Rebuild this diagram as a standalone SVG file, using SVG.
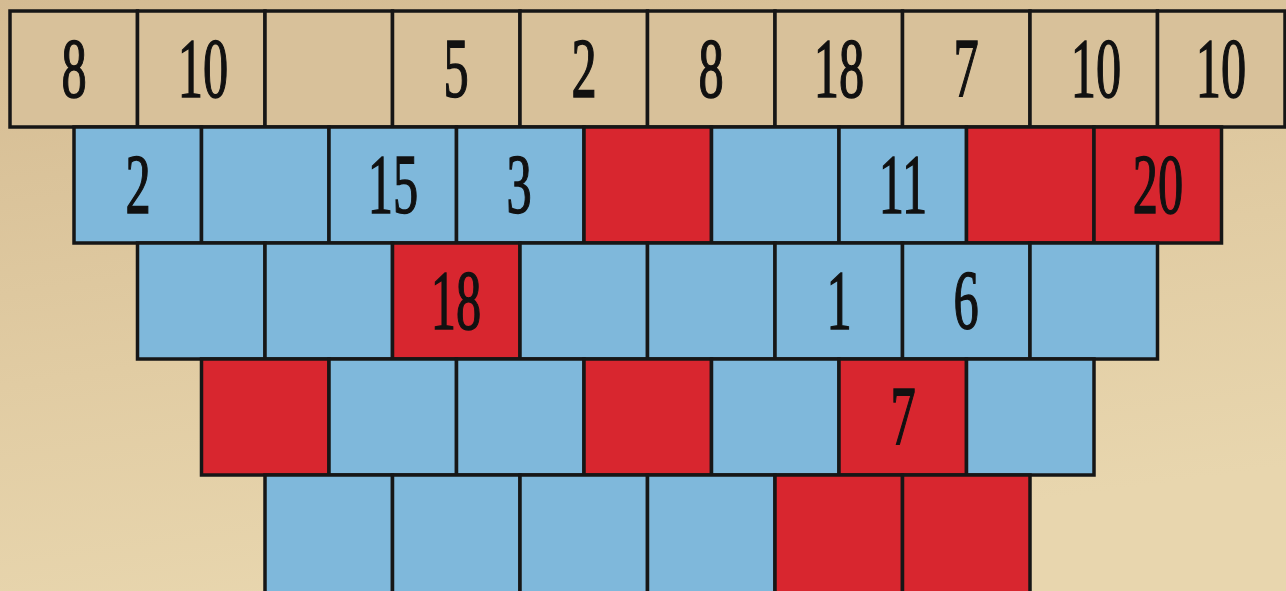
<svg xmlns="http://www.w3.org/2000/svg" width="1286" height="591" viewBox="0 0 1286 591">
<defs>
<linearGradient id="bg" x1="0" y1="0" x2="0.3" y2="1">
<stop offset="0" stop-color="#d4bb92"/>
<stop offset="0.6" stop-color="#e1cca3"/>
<stop offset="1" stop-color="#e8d6ae"/>
</linearGradient>
<style>
.c{stroke:#161616;stroke-width:3.5}
.t{fill:#d8c19a}
.b{fill:#7fb8db}
.r{fill:#d8262f}
.n{font-family:"Liberation Serif","DejaVu Serif",serif;font-size:84px;fill:#111;stroke:#111;stroke-width:1.5;text-anchor:middle}
</style>
</defs>
<rect width="1286" height="591" fill="url(#bg)"/>
<g id="row0">
<g id="r0c0"><rect class="c t" x="10" y="11" width="127.5" height="116"/><text class="n" transform="translate(74,97) scale(0.6,1)">8</text></g>
<g id="r0c1"><rect class="c t" x="137.5" y="11" width="127.5" height="116"/><text class="n" transform="translate(203,97) scale(0.6,1)">10</text></g>
<g id="r0c2"><rect class="c t" x="265" y="11" width="127.5" height="116"/></g>
<g id="r0c3"><rect class="c t" x="392.5" y="11" width="127.5" height="116"/><text class="n" transform="translate(456,97) scale(0.6,1)">5</text></g>
<g id="r0c4"><rect class="c t" x="520" y="11" width="127.5" height="116"/><text class="n" transform="translate(584,97) scale(0.6,1)">2</text></g>
<g id="r0c5"><rect class="c t" x="647.5" y="11" width="127.5" height="116"/><text class="n" transform="translate(711,97) scale(0.6,1)">8</text></g>
<g id="r0c6"><rect class="c t" x="775" y="11" width="127.5" height="116"/><text class="n" transform="translate(839,97) scale(0.6,1)">18</text></g>
<g id="r0c7"><rect class="c t" x="902.5" y="11" width="127.5" height="116"/><text class="n" transform="translate(966,97) scale(0.6,1)">7</text></g>
<g id="r0c8"><rect class="c t" x="1030" y="11" width="127.5" height="116"/><text class="n" transform="translate(1096,97) scale(0.6,1)">10</text></g>
<g id="r0c9"><rect class="c t" x="1157.5" y="11" width="127.5" height="116"/><text class="n" transform="translate(1221,97) scale(0.6,1)">10</text></g>
</g>
<g id="row1">
<g id="r1c0"><rect class="c b" x="74" y="127" width="127.5" height="116"/><text class="n" transform="translate(138,213) scale(0.6,1)">2</text></g>
<g id="r1c1"><rect class="c b" x="201.5" y="127" width="127.5" height="116"/></g>
<g id="r1c2"><rect class="c b" x="329" y="127" width="127.5" height="116"/><text class="n" transform="translate(393,213) scale(0.6,1)">15</text></g>
<g id="r1c3"><rect class="c b" x="456.5" y="127" width="127.5" height="116"/><text class="n" transform="translate(519,213) scale(0.6,1)">3</text></g>
<g id="r1c4"><rect class="c r" x="584" y="127" width="127.5" height="116"/></g>
<g id="r1c5"><rect class="c b" x="711.5" y="127" width="127.5" height="116"/></g>
<g id="r1c6"><rect class="c b" x="839" y="127" width="127.5" height="116"/><text class="n" transform="translate(903,213) scale(0.6,1)">11</text></g>
<g id="r1c7"><rect class="c r" x="966.5" y="127" width="127.5" height="116"/></g>
<g id="r1c8"><rect class="c r" x="1094" y="127" width="127.5" height="116"/><text class="n" transform="translate(1158,213) scale(0.6,1)">20</text></g>
</g>
<g id="row2">
<g id="r2c0"><rect class="c b" x="137.5" y="243" width="127.5" height="116"/></g>
<g id="r2c1"><rect class="c b" x="265" y="243" width="127.5" height="116"/></g>
<g id="r2c2"><rect class="c r" x="392.5" y="243" width="127.5" height="116"/><text class="n" transform="translate(456,329) scale(0.6,1)">18</text></g>
<g id="r2c3"><rect class="c b" x="520" y="243" width="127.5" height="116"/></g>
<g id="r2c4"><rect class="c b" x="647.5" y="243" width="127.5" height="116"/></g>
<g id="r2c5"><rect class="c b" x="775" y="243" width="127.5" height="116"/><text class="n" transform="translate(839,329) scale(0.6,1)">1</text></g>
<g id="r2c6"><rect class="c b" x="902.5" y="243" width="127.5" height="116"/><text class="n" transform="translate(966,329) scale(0.6,1)">6</text></g>
<g id="r2c7"><rect class="c b" x="1030" y="243" width="127.5" height="116"/></g>
</g>
<g id="row3">
<g id="r3c0"><rect class="c r" x="201.5" y="359" width="127.5" height="116"/></g>
<g id="r3c1"><rect class="c b" x="329" y="359" width="127.5" height="116"/></g>
<g id="r3c2"><rect class="c b" x="456.5" y="359" width="127.5" height="116"/></g>
<g id="r3c3"><rect class="c r" x="584" y="359" width="127.5" height="116"/></g>
<g id="r3c4"><rect class="c b" x="711.5" y="359" width="127.5" height="116"/></g>
<g id="r3c5"><rect class="c r" x="839" y="359" width="127.5" height="116"/><text class="n" transform="translate(903,445) scale(0.6,1)">7</text></g>
<g id="r3c6"><rect class="c b" x="966.5" y="359" width="127.5" height="116"/></g>
</g>
<g id="row4">
<g id="r4c0"><rect class="c b" x="265" y="475" width="127.5" height="130"/></g>
<g id="r4c1"><rect class="c b" x="392.5" y="475" width="127.5" height="130"/></g>
<g id="r4c2"><rect class="c b" x="520" y="475" width="127.5" height="130"/></g>
<g id="r4c3"><rect class="c b" x="647.5" y="475" width="127.5" height="130"/></g>
<g id="r4c4"><rect class="c r" x="775" y="475" width="127.5" height="130"/></g>
<g id="r4c5"><rect class="c r" x="902.5" y="475" width="127.5" height="130"/></g>
</g>
<g id="connectors"/>
</svg>
